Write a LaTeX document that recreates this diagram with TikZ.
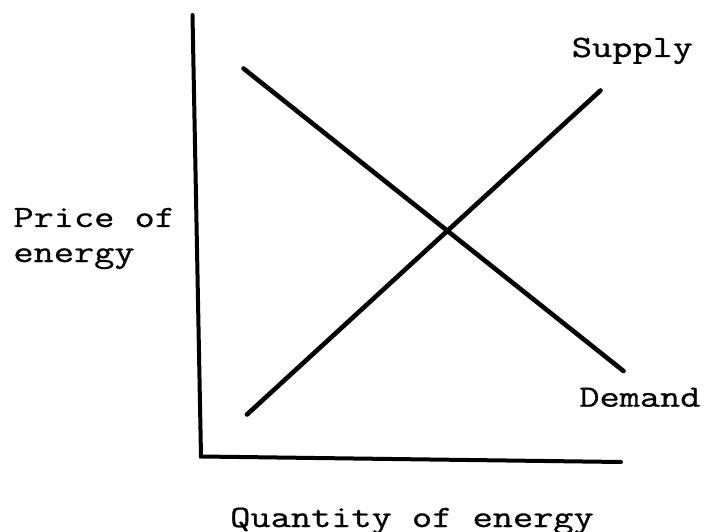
\documentclass[tikz,border=0pt]{standalone}
\usepackage{fontspec}
\usepackage{graphicx}
\newfontfamily\twfont[FakeBold=0.8]{Latin Modern Mono}
\newcommand{\twtext}[1]{\scalebox{1.265}[1]{#1}}
\begin{document}
\begin{tikzpicture}[x=1pt,y=-1pt,
  axis/.style={line width=4pt,line cap=round,line join=miter},
  curve/.style={line width=4.6pt,line cap=round},
  lbl/.style={inner sep=0pt,outer sep=0pt,anchor=base,font=\twfont\fontsize{31}{36}\selectfont}]
\useasboundingbox (0,0) rectangle (705,532);
\coordinate (ytop) at (192.5,15);
\coordinate (origin) at (201,456.5);
\coordinate (xend) at (621,462);
\coordinate (d1) at (243.5,68.5);
\coordinate (d2) at (623.5,371);
\coordinate (s1) at (247,414.5);
\coordinate (s2) at (600.5,90.5);
\draw[axis] (ytop) -- (origin) -- (xend);
\draw[curve] (d1) -- (d2);
\draw[curve] (s1) -- (s2);
\node[lbl] (supply) at (632.4,57) {\twtext{Supply}};
\node[lbl] (demand) at (639.9,406.7) {\twtext{Demand}};
\node[lbl] (price) at (94.2,227) {\twtext{Price of}};
\node[lbl] (energy) at (74,262) {\twtext{energy}};
\node[lbl] (qty) at (412,527) {\twtext{Quantity of energy}};
\end{tikzpicture}
\end{document}
